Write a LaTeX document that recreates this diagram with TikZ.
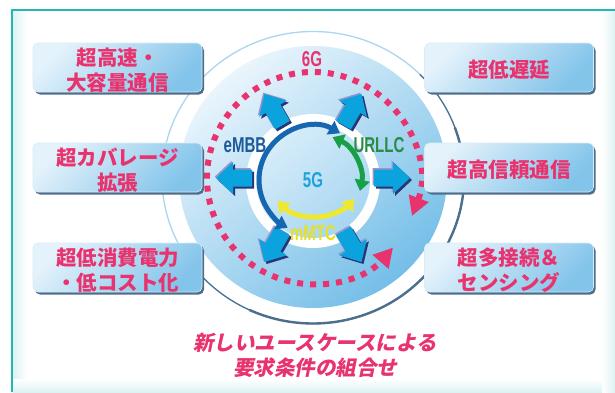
\documentclass[tikz,border=0pt]{standalone}
\usepackage{fontspec}
\usetikzlibrary{arrows.meta,shadows,calc}
\newfontfamily\jp{Noto Sans CJK JP}
\newfontfamily\jpsl[FakeSlant=0.2]{Noto Sans CJK JP}
\newfontfamily\cond[FakeStretch=0.7]{Liberation Sans}
\definecolor{pinkT}{HTML}{E8336E}
\definecolor{cyanA}{HTML}{0BA3DD}
\definecolor{navyA}{HTML}{2A3576}
\definecolor{lilacA}{HTML}{9A93CC}
\definecolor{blueArc}{HTML}{1667B2}
\definecolor{greenArc}{HTML}{17A048}
\definecolor{yellowArc}{HTML}{EEE92E}
\definecolor{embbC}{HTML}{1D5A9A}
\definecolor{urllcC}{HTML}{2A8C47}
\definecolor{gfiveC}{HTML}{1FA2DB}
\definecolor{mmtcC}{HTML}{E6E02A}
\definecolor{boxL}{HTML}{E4F2FB}
\definecolor{boxD}{HTML}{82C4EA}
\definecolor{boxS}{HTML}{4E6E8C}
\definecolor{diskL}{HTML}{EAF5FC}
\definecolor{diskD}{HTML}{74BEE8}
\definecolor{innerL}{HTML}{D8EDF9}
\definecolor{innerD}{HTML}{A6D6F1}
\definecolor{ringLight}{HTML}{A9D6F0}
\definecolor{ringDark}{HTML}{4B6F8C}
\definecolor{frameTeal}{HTML}{22B8B8}
\definecolor{frameGlow}{HTML}{DDF2F2}
\begin{document}
\begin{tikzpicture}[x=1pt,y=1pt,
  ubox/.style={rounded corners=5pt, minimum width=169pt, minimum height=49pt,
    inner sep=0pt, top color=boxL, bottom color=boxD, shading angle=45,
    draw=white!70!boxD, line width=0.6pt,
    drop shadow={fill=boxS, opacity=1, shadow xshift=2pt, shadow yshift=-2.5pt}},
  boxtxt/.style={text=pinkT, align=center, inner sep=0pt,
    font=\jp\bfseries\fontsize{20.5}{25}\selectfont},
  captxt/.style={text=pinkT, align=center, inner sep=0pt,
    font=\jpsl\bfseries\fontsize{20.5}{25}\selectfont},
  lbl/.style={inner sep=0pt, font=\cond\bfseries\fontsize{21.5}{22}\selectfont},
  pics/barrow/.style={code={
    \fill[#1] (0,-8.5) -- (19,-8.5) -- (19,-16) -- (36,0) -- (19,16) -- (19,8.5) -- (0,8.5) -- cycle;}},
  arcarrow/.style={line width=5pt, {Triangle[length=11pt,width=15pt]}-{Triangle[length=11pt,width=15pt]}}
]
\useasboundingbox (0,0) rectangle (615,392);
\fill[white] (0,0) rectangle (615,392);
% frame
\shade[left color=frameGlow, right color=white] (13,0) rectangle (27,381);
\shade[bottom color=frameGlow, top color=white] (13,0) rectangle (615,13);
\shade[right color=frameGlow, left color=white] (602,0) rectangle (615,381);
\draw[frameTeal, line width=2pt] (12,0) -- (12,382) -- (615,382);

% big disc
\coordinate (C) at (313,214);
\fill[white] (313,214.5) ellipse [x radius=151pt, y radius=146pt];
\draw[ringLight, line width=1.3pt] (313,214.5) ellipse [x radius=151pt, y radius=146pt];
\draw[ringDark, line width=1.2pt] ($(313,214.5)+(45:151pt and 146pt)$)
  arc[start angle=45, end angle=-140, x radius=151pt, y radius=146pt];
\draw[ringDark, line width=2.4pt] ($(313,214.5)+(20:151pt and 146pt)$)
  arc[start angle=20, end angle=-115, x radius=151pt, y radius=146pt];
\shade[top color=diskL, bottom color=diskD, shading angle=40]
  (313,215) ellipse [x radius=134pt, y radius=131pt];
% inner white ring
\fill[white] (313,211) circle[radius=67pt];
\shade[top color=innerL, bottom color=innerD, shading angle=40] (313,211) circle[radius=57pt];

% 6G dashed circle
\draw[pinkT, line width=6pt, dash pattern=on 6pt off 7pt,
  {Triangle[length=19pt,width=20pt]}-{Triangle[length=19pt,width=20pt]}]
  ($(C)+(-21:106)$) arc[start angle=-21, end angle=319, radius=106pt];

% block arrows
\foreach \a in {0,60,120,180,240,300} {
  \pic[rotate=\a] at ($(C)+(\a:61)+(-1.3,1.3)$) {barrow=lilacA};
  \pic[rotate=\a] at ($(C)+(\a:61)+(2,-2)$) {barrow=navyA};
  \pic[rotate=\a] at ($(C)+(\a:61)$) {barrow=cyanA};
}

% 5G arcs
\draw[blueArc, arcarrow] ($(313,212)+(60:54)$) arc[start angle=60, end angle=242, radius=54pt];
\draw[greenArc, arcarrow] ($(313,211)+(66:48)$) arc[start angle=66, end angle=-12, radius=48pt];
\draw[yellowArc, arcarrow] ($(315,226)+(223:51)$) arc[start angle=223, end angle=320, radius=51pt];

% labels
\node[lbl, text=pinkT] (g6) at (312,333) {6G};
\node[lbl, text=gfiveC] (g5) at (313,212) {5G};
\node[lbl, text=embbC] (embb) at (245,247) {eMBB};
\node[lbl, text=urllcC] (urllc) at (379,247) {URLLC};
\node[lbl, text=mmtcC] (mmtc) at (313,159) {mMTC};

% boxes
\node[ubox] (b1) at (117.5,324.5) {};
\node[ubox] (b2) at (117.5,224.5) {};
\node[ubox] (b3) at (117.5,124.5) {};
\node[ubox] (b4) at (509,324.5) {};
\node[ubox] (b5) at (509,224.5) {};
\node[ubox] (b6) at (509,124.5) {};
\node[boxtxt] (t1) at ($(b1)+(0,-3)$) {超高速・\\大容量通信};
\node[boxtxt] (t2) at ($(b2)+(0,-3)$) {超カバレージ\\拡張};
\node[boxtxt] (t3) at ($(b3)+(0,-3)$) {超低消費電力\\・低コスト化};
\node[boxtxt] (t4) at ($(b4)+(0,-2.5)$) {超低遅延};
\node[boxtxt] (t5) at ($(b5)+(0,-2.5)$) {超高信頼通信};
\node[boxtxt] (t6) at ($(b6)+(0,-3)$) {超多接続＆\\センシング};

% caption
\node[captxt] (cap) at (315,36.5) {新しいユースケースによる\\要求条件の組合せ};
\end{tikzpicture}
\end{document}
